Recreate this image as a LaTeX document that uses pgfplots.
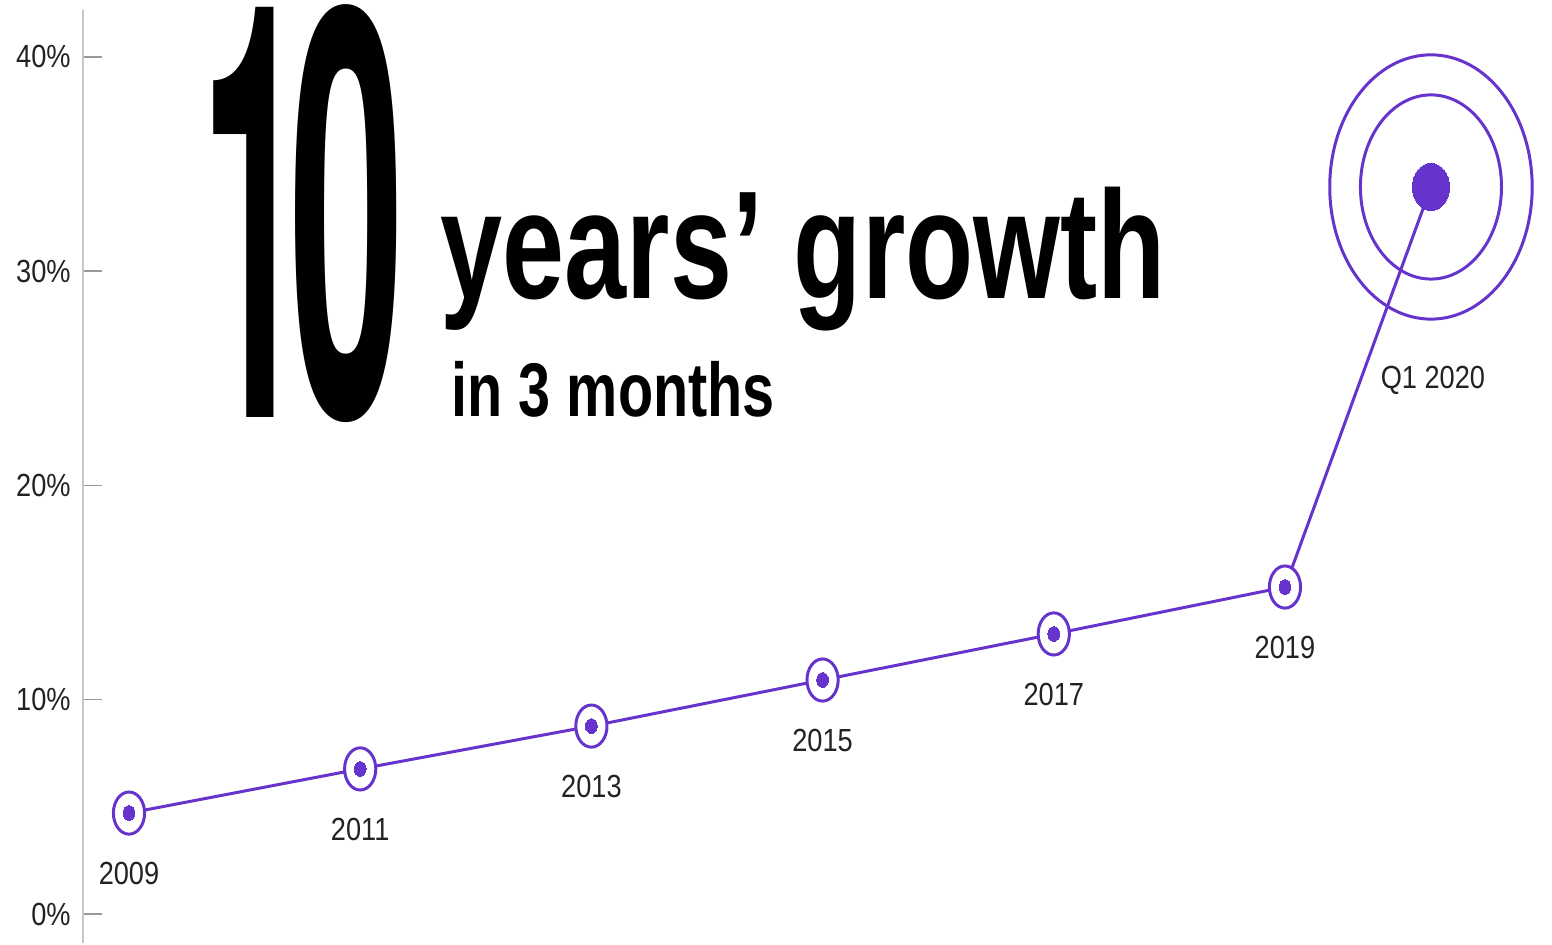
\documentclass[border=0pt]{standalone}
\usepackage{pgfplots}
\pgfplotsset{compat=1.18}
\usepackage{fontspec}
\usepackage{graphicx}
\setmainfont{Liberation Sans}[FakeStretch=0.85]
\newfontfamily\herosfont{TeX Gyre Heros}
\definecolor{purp}{RGB}{102,51,204}
\definecolor{labelgray}{RGB}{34,34,34}
\newcommand{\lblfont}{\fontsize{9.1}{11}\selectfont}

\begin{document}
\begin{tikzpicture}
\begin{axis}[
    at={(0,0)}, anchor=south west,
    scale only axis,
    width=14.69cm, height=9.33cm,
    xmin=2008.602, xmax=2021.31,
    ymin=-1.354, ymax=42.19,
    axis x line=none,
    axis y line=left,
    y axis line style={-, draw=black!22, line width=0.6pt},
    ytick={0,10,20,30,40},
    yticklabels={0\%,10\%,20\%,30\%,40\%},
    tick align=inside,
    major tick length=0.19cm,
    ytick style={draw=black!40, line width=0.4pt},
    yticklabel style={font=\lblfont, text=labelgray},
    clip=false,
]

% the line
\addplot[color=purp, line width=0.85pt, no marks]
    coordinates {
    (2009,4.71)(2011,6.77)(2013,8.77)(2015,10.92)(2017,13.07)(2019,15.26)(2020.263,33.93)
    };

% yearly rings
\addplot[color=purp, only marks, mark=*, mark size=6pt,
    mark options={draw=purp, fill=white, line width=0.85pt, xscale=0.74}]
    coordinates {
    (2009,4.71)(2011,6.77)(2013,8.77)(2015,10.92)(2017,13.07)(2019,15.26)
    };
\addplot[color=purp, only marks, mark=*, mark size=2.1pt,
    mark options={draw=purp, fill=purp, line width=0pt, xscale=0.8}]
    coordinates {
    (2009,4.71)(2011,6.77)(2013,8.77)(2015,10.92)(2017,13.07)(2019,15.26)
    };

% Q1 2020 target
\addplot[color=purp, only marks, mark=*, mark size=6.7pt,
    mark options={draw=purp, fill=purp, line width=0pt, xscale=0.79}]
    coordinates {(2020.263,33.93)};
\addplot[color=purp, only marks, mark=o, mark size=26.2pt,
    mark options={draw=purp, line width=0.85pt, xscale=0.766}]
    coordinates {(2020.263,33.93)};
\addplot[color=purp, only marks, mark=o, mark size=37.6pt,
    mark options={draw=purp, line width=0.85pt, xscale=0.766}]
    coordinates {(2020.263,33.93)};

\begin{scope}[every node/.style={font=\lblfont, text=labelgray, inner sep=0pt, yshift=-0.605cm}]
\node at (axis cs:2009,4.71) {2009};
\node at (axis cs:2011,6.77) {2011};
\node at (axis cs:2013,8.77) {2013};
\node at (axis cs:2015,10.92) {2015};
\node at (axis cs:2017,13.07) {2017};
\node at (axis cs:2019,15.26) {2019};
\end{scope}
\node[font=\lblfont, text=labelgray, inner sep=0pt, yshift=-1.93cm]
    at (axis cs:2020.28,33.93) {Q1 2020};
\end{axis}

% headline
\node[anchor=south west, inner sep=0pt] at (1.166,5.25)
    {\resizebox*{1.08cm}{4.10cm}{\herosfont\bfseries 1}};
\node[anchor=south west, inner sep=0pt] at (2.053,5.20)
    {\resizebox*{1.153cm}{4.18cm}{\herosfont\bfseries 0}};
\node[anchor=south west, inner sep=0pt] at (3.57,6.11)
    {\resizebox*{7.25cm}{1.44cm}{\bfseries years’ growth}};
\node[anchor=south west, inner sep=0pt] at (3.68,5.25)
    {\resizebox*{3.23cm}{0.56cm}{\bfseries in 3 months}};

\path[use as bounding box] (-0.83,0) rectangle (14.69,9.43);
\end{tikzpicture}
\end{document}
